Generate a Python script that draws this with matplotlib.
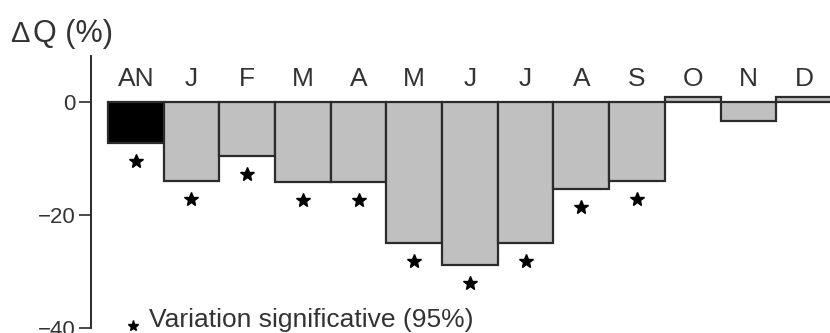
import matplotlib.pyplot as plt
import numpy as np

plt.rcParams['font.family'] = ['Liberation Sans', 'DejaVu Sans']

months = ['AN', 'J', 'F', 'M', 'A', 'M', 'J', 'J', 'A', 'S', 'O', 'N', 'D']
delta_q = [-7.2, -13.9, -9.5, -14.2, -14.1, -25.0, -28.9, -25.0, -15.3, -13.9, 1.0, -3.4, 1.0]
significant = [True, True, True, True, True, True, True, True, True, True, False, False, False]
yticks = [0, -20, -40]

text_col = '#333333'
edge_col = '#2b2b2b'

fig = plt.figure(figsize=(8.3, 3.33), dpi=100)
ax = fig.add_axes([0.1096, 0.015, 0.890, 0.817])

x = np.arange(len(months))
colors = ['black'] + ['#c0c0c0'] * (len(months) - 1)
ax.bar(x, delta_q, width=1.0, color=colors, edgecolor=edge_col, linewidth=1.6, zorder=2)

# stars under the bars with a 95% significant change
for xi, v, sig in zip(x, delta_q, significant):
    if sig:
        ax.plot(xi, v - 3.2, marker='*', color='black', markersize=10, zorder=3)

# month initials above the zero line
for xi, m in zip(x, months):
    ax.text(xi, 4.1, m, ha='center', va='center', fontsize=19, color=text_col)

ax.set_xlim(-0.805, 12.46)
ax.set_ylim(-40, 8.2)
ax.set_yticks(yticks)
ax.set_yticklabels(['0', '\u221220', '\u221240'])
ax.tick_params(axis='y', direction='out', length=9, width=1.2, colors=edge_col,
               labelcolor=text_col, labelsize=16, pad=2)
ax.set_xticks([])
for s in ['top', 'right', 'bottom']:
    ax.spines[s].set_visible(False)
ax.spines['left'].set_color(edge_col)
ax.spines['left'].set_linewidth(1.4)

# axis title: delta sign drawn a bit smaller than the rest
fig.text(10 / 830, 1 - 42 / 333, '\u0394', fontsize=21, color=text_col, va='baseline')
fig.text(33 / 830, 1 - 42 / 333, 'Q (%)', fontsize=22, color=text_col, va='baseline')

# legend line for the star marker
fig.lines.append(plt.Line2D([133 / 830], [1 - 326 / 333], marker='*', color='black',
                            markersize=8, transform=fig.transFigure))
fig.text(149 / 830, 1 - 320 / 333, 'Variation significative (95%)', fontsize=19,
         color=text_col, va='center')

fig.savefig('out.png', dpi=100)
